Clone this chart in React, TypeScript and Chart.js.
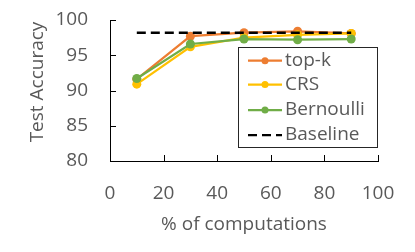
import React, { useEffect, useRef } from "react";
import { Chart, registerables } from "chart.js";

Chart.register(...registerables);

const xValues = [10, 30, 50, 70, 90];
const topK = [91.6, 97.7, 98.2, 98.4, 98.1];
const crs = [90.9, 96.2, 97.5, 97.9, 98.1];
const bernoulli = [91.7, 96.6, 97.3, 97.2, 97.3];
const baselineX = [10, 90];
const baselineY = [98.2, 98.2];
const xTicks = [0, 20, 40, 60, 80, 100];
const yTicks = [80, 85, 90, 95, 100];
const seriesNames = ["top-k", "CRS", "Bernoulli", "Baseline"];
const colors = ["#ED7D31", "#FFC000", "#70AD47", "#000000"];

const FONT = "'Open Sans', sans-serif";
const TEXT = "#595959";

const toPts = (xs: number[], ys: number[]) => xs.map((x, i) => ({ x, y: ys[i] }));

const extrasPlugin = {
  id: "extras",
  afterDatasetsDraw(chart: any) {
    const { ctx, chartArea, scales } = chart;
    ctx.save();
    // inside tick marks
    ctx.strokeStyle = "#000";
    ctx.lineWidth = 1;
    ctx.beginPath();
    xTicks.forEach((v) => {
      const x = Math.round(scales.x.getPixelForValue(v)) + 0.5;
      ctx.moveTo(x, chartArea.bottom);
      ctx.lineTo(x, chartArea.bottom - 6);
    });
    yTicks.forEach((v) => {
      const y = Math.round(scales.y.getPixelForValue(v)) + 0.5;
      ctx.moveTo(chartArea.left, y);
      ctx.lineTo(chartArea.left + 6, y);
    });
    ctx.stroke();

    // y title
    ctx.fillStyle = TEXT;
    ctx.font = `19px ${FONT}`;
    ctx.textAlign = "center";
    ctx.textBaseline = "middle";
    ctx.translate(38, 82);
    ctx.rotate(-Math.PI / 2);
    ctx.fillText("Test Accuracy", 0, 0);
    ctx.restore();

    // legend
    ctx.save();
    const bx = 238.5, by = 47.5, bw = 139, bh = 100;
    ctx.fillStyle = "#fff";
    ctx.fillRect(bx, by, bw, bh);
    ctx.strokeStyle = "#262626";
    ctx.lineWidth = 1;
    ctx.strokeRect(bx, by, bw, bh);
    const rows = [60.7, 84.5, 110, 135];
    chart.data.datasets.forEach((ds: any, i: number) => {
      const y = rows[i];
      ctx.strokeStyle = ds.borderColor;
      ctx.lineWidth = 2.25;
      ctx.setLineDash(ds.borderDash || []);
      ctx.beginPath();
      ctx.moveTo(248, y);
      ctx.lineTo(282, y);
      ctx.stroke();
      ctx.setLineDash([]);
      if (ds.pointRadius > 0) {
        ctx.fillStyle = ds.pointBackgroundColor;
        ctx.beginPath();
        ctx.arc(265, y, 3.5, 0, Math.PI * 2);
        ctx.fill();
      }
      ctx.fillStyle = TEXT;
      ctx.font = `19px ${FONT}`;
      ctx.textAlign = "left";
      ctx.textBaseline = "middle";
      ctx.fillText(ds.label, 285, y);
    });
    ctx.restore();
  },
};

export default function App() {
  const ref = useRef<HTMLCanvasElement | null>(null);
  useEffect(() => {
    if (!ref.current) return;
    const mk = (i: number, data: any[], dash?: number[]) => ({
      label: seriesNames[i],
      data,
      borderColor: colors[i],
      backgroundColor: colors[i],
      pointBackgroundColor: colors[i],
      pointBorderColor: colors[i],
      borderWidth: dash ? 2.5 : 2.25,
      borderDash: dash,
      pointRadius: dash ? 0 : 4.5,
      pointBorderWidth: 0,
      order: 3 - i,
      tension: 0,
    });
    const chart = new Chart(ref.current, {
      type: "line",
      data: {
        datasets: [
          mk(0, toPts(xValues, topK)),
          mk(1, toPts(xValues, crs)),
          mk(2, toPts(xValues, bernoulli)),
          mk(3, toPts(baselineX, baselineY), [9, 5]),
        ],
      },
      options: {
        animation: false,
        responsive: false,
        devicePixelRatio: 1,
        layout: { padding: { top: 20, right: 37, left: 0, bottom: 0 } },
        plugins: { legend: { display: false }, tooltip: { enabled: false } },
        scales: {
          x: {
            type: "linear",
            min: 0,
            max: 100,
            afterFit: (s: any) => { s.height = 91; s.paddingLeft = 0; s.paddingRight = 0; },
            afterBuildTicks: (s: any) => { s.ticks = xTicks.map((v) => ({ value: v })); },
            grid: { display: false, drawTicks: false },
            border: { display: true, color: "#000", width: 1 },
            ticks: { color: TEXT, font: { family: FONT, size: 19 }, padding: 21 },
            title: {
              display: true,
              text: "% of computations",
              color: TEXT,
              font: { family: FONT, size: 19 },
              padding: { top: 0, bottom: 16 },
            },
          },
          y: {
            min: 80,
            max: 100,
            afterFit: (s: any) => { s.width = 110; s.paddingTop = 0; s.paddingBottom = 0; },
            afterBuildTicks: (s: any) => { s.ticks = yTicks.map((v) => ({ value: v })); },
            grid: { display: false, drawTicks: false },
            border: { display: true, color: "#000", width: 1 },
            ticks: { color: TEXT, font: { family: FONT, size: 19 }, padding: 22 },
          },
        },
      },
      plugins: [extrasPlugin],
    });
    return () => chart.destroy();
  }, []);
  return (
    <div style={{ position: "fixed", left: 0, top: 0, width: 415, height: 252, background: "#fff" }}>
      <canvas ref={ref} width={415} height={252} style={{ width: 415, height: 252 }} />
    </div>
  );
}
